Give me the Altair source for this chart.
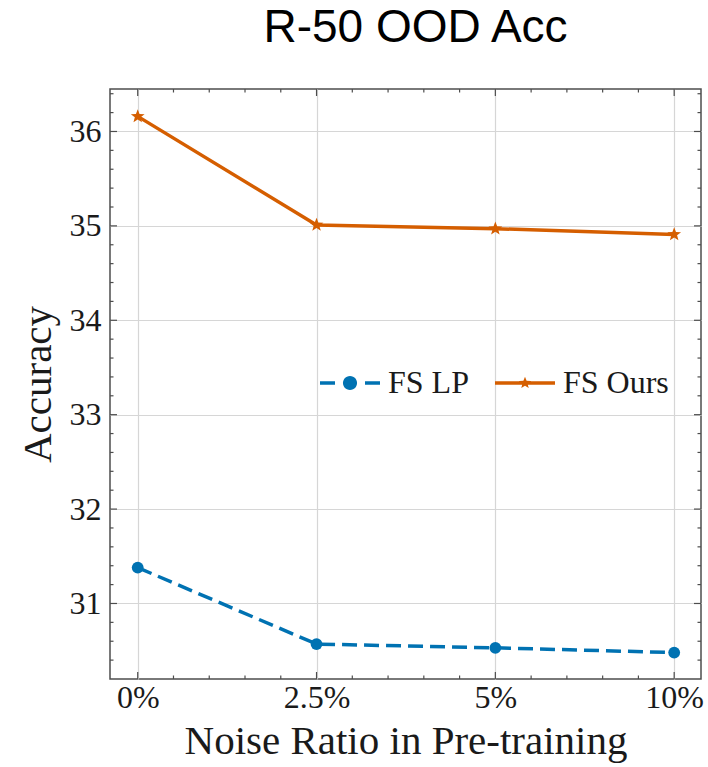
import altair as alt
import pandas as pd
import numpy as np

# ---------------- data ----------------
categories = ["0%", "2.5%", "5%", "10%"]
series_names = ["FS LP", "FS Ours"]
fs_lp = [31.38, 30.57, 30.53, 30.48]
fs_ours = [36.16, 35.01, 34.97, 34.91]
y_major = [31, 32, 33, 34, 35, 36]
colors = ["#0072B2", "#D55E00"]

rows = []
for i, c in enumerate(categories):
    rows.append({"idx": i, "cat": c, "series": series_names[0], "acc": fs_lp[i]})
    rows.append({"idx": i, "cat": c, "series": series_names[1], "acc": fs_ours[i]})
df = pd.DataFrame(rows)

# ---------------- geometry / style ----------------
W, H = 591, 590
XDOM = [-0.155, 3.15]
YDOM = [30.2, 36.45]
SERIF = "Liberation Serif"
FRAME = "#4d4d4d"


def star_path(R, r, cx=0.0):
    pts = []
    for k in range(10):
        ang = -np.pi / 2 + k * np.pi / 5
        rad = R if k % 2 == 0 else r
        pts.append((cx + rad * np.cos(ang), rad * np.sin(ang)))
    return "M" + " L".join(f"{x:.4f},{y:.4f}" for x, y in pts) + " Z"


def circle_path(R, n=28):
    pts = [(R * np.cos(2 * np.pi * k / n), R * np.sin(2 * np.pi * k / n)) for k in range(n)]
    return "M" + " L".join(f"{x:.4f},{y:.4f}" for x, y in pts) + " Z"


def rect_path(x0, x1, h):
    return f"M{x0},{-h} L{x1},{-h} L{x1},{h} L{x0},{h} Z"


# legend glyphs (line segment + marker), units: +-1 == half symbol width
leg_lp = rect_path(-1, -0.5, 0.058) + " " + circle_path(0.235) + " " + rect_path(0.5, 1, 0.058)
leg_ours = rect_path(-1, 1, 0.055) + " " + star_path(0.21, 0.09)
data_star = star_path(1.0, 0.42)

label_expr = "[" + ",".join(f"'{c}'" for c in categories) + "][datum.value]"

xscale = alt.Scale(domain=XDOM, nice=False, zero=False)
yscale = alt.Scale(domain=YDOM, nice=False, zero=False)
cscale = alt.Scale(domain=series_names, range=colors)

x_enc = alt.X(
    "idx:Q",
    scale=xscale,
    axis=alt.Axis(
        values=[0, 1, 2, 3],
        labelExpr=label_expr,
        title="Noise Ratio in Pre-training",
        grid=True,
        ticks=False,
        domain=False,
        labelPadding=3,
        labelFlush=False,
        labelOverlap=False,
        labelFont=SERIF,
        labelFontSize=32,
        titleFont=SERIF,
        titleFontSize=41,
        titleFontWeight="normal",
        titleY=74,
        titleBaseline="alphabetic",
    ),
)
y_enc = alt.Y(
    "acc:Q",
    scale=yscale,
    axis=alt.Axis(
        values=y_major,
        format="d",
        title="Accuracy",
        grid=True,
        ticks=False,
        domain=False,
        labelPadding=9,
        labelFont=SERIF,
        labelFontSize=32,
        labelOverlap=False,
        titleFont=SERIF,
        titleFontSize=41,
        titleFontWeight="normal",
        titleX=-60,
        titleY=H / 2,
        titleBaseline="alphabetic",
        titleAlign="center",
    ),
)


def series_df(name):
    return df[df["series"] == name]


line_lp = alt.Chart(series_df(series_names[0])).mark_line(
    strokeWidth=3.5, color=colors[0], strokeDash=[15, 7]
).encode(x=x_enc, y=y_enc)

line_ours = alt.Chart(series_df(series_names[1])).mark_line(
    strokeWidth=3.5, color=colors[1]
).encode(x=alt.X("idx:Q", scale=xscale), y=alt.Y("acc:Q", scale=yscale))

pts_lp = alt.Chart(series_df(series_names[0])).mark_point(
    shape="circle", filled=True, size=140, opacity=1, color=colors[0]
).encode(x=alt.X("idx:Q", scale=xscale), y=alt.Y("acc:Q", scale=yscale))

pts_ours = alt.Chart(series_df(series_names[1])).mark_point(
    shape=data_star, filled=True, size=210, opacity=1, color=colors[1]
).encode(x=alt.X("idx:Q", scale=xscale), y=alt.Y("acc:Q", scale=yscale))

# legend-only layer (invisible marks; legend symbols drawn with custom glyphs)
leg_df = pd.DataFrame({"series": series_names})
legend_props = dict(
    title=None,
    orient="none",
    legendX=210,
    legendY=264,
    direction="horizontal",
    symbolSize=3600,
    symbolStrokeWidth=0,
    symbolOpacity=1,
    labelFont=SERIF,
    labelFontSize=32,
    labelColor="#1a1a1a",
    labelOffset=8,
    columnPadding=26,
    padding=0,
)
legend_layer = alt.Chart(leg_df).mark_point(filled=True, opacity=0, size=3600).encode(
    x=alt.value(0),
    y=alt.value(0),
    color=alt.Color("series:N", scale=cscale, legend=alt.Legend(**legend_props)),
    shape=alt.Shape(
        "series:N",
        scale=alt.Scale(domain=series_names, range=[leg_lp, leg_ours]),
        legend=alt.Legend(**legend_props),
    ),
)

# inward ticks on all four sides
x_major_df = pd.DataFrame({"t": [0, 1, 2, 3]})
x_minor_vals = [v for v in np.round(np.arange(0.2, 3.0, 0.2), 2) if abs(v - round(v)) > 1e-6]
x_minor_df = pd.DataFrame({"t": x_minor_vals})
y_major_df = pd.DataFrame({"t": y_major})
y_minor_vals = [v for v in np.round(np.arange(30.4, 36.45, 0.2), 2) if abs(v - round(v)) > 1e-6]
y_minor_df = pd.DataFrame({"t": y_minor_vals})

MAJ, MIN = 7, 3.5
tick_style = dict(color=FRAME, strokeWidth=1.2)


def xticks(d, L):
    bot = alt.Chart(d).mark_rule(**tick_style).encode(
        x=alt.X("t:Q", scale=xscale), y=alt.value(H), y2=alt.value(H - L)
    )
    top = alt.Chart(d).mark_rule(**tick_style).encode(
        x=alt.X("t:Q", scale=xscale), y=alt.value(0), y2=alt.value(L)
    )
    return bot + top


def yticks(d, L):
    left = alt.Chart(d).mark_rule(**tick_style).encode(
        y=alt.Y("t:Q", scale=yscale), x=alt.value(0), x2=alt.value(L)
    )
    right = alt.Chart(d).mark_rule(**tick_style).encode(
        y=alt.Y("t:Q", scale=yscale), x=alt.value(W), x2=alt.value(W - L)
    )
    return left + right


chart = (
    alt.layer(
        line_lp,
        line_ours,
        pts_lp,
        pts_ours,
        legend_layer,
        xticks(x_major_df, MAJ),
        xticks(x_minor_df, MIN),
        yticks(y_major_df, MAJ),
        yticks(y_minor_df, MIN),
    )
    .properties(
        width=W,
        height=H,
        title=alt.TitleParams(
            "R-50 OOD Acc",
            font="Liberation Sans",
            fontSize=46,
            fontWeight="normal",
            color="#000000",
            anchor="middle",
            dx=10,
            offset=30,
        ),
        autosize=alt.AutoSizeParams(type="none"),
        padding={"left": 110, "top": 89, "right": 7, "bottom": 88},
        background="white",
    )
    .configure_view(stroke=FRAME, strokeWidth=1.5)
    .configure_axis(
        gridColor="#d6d6d6",
        gridWidth=1.2,
        labelColor="#1a1a1a",
        titleColor="#1a1a1a",
    )
)

chart.save("out.html", embed_options={"renderer": "svg", "actions": False})
